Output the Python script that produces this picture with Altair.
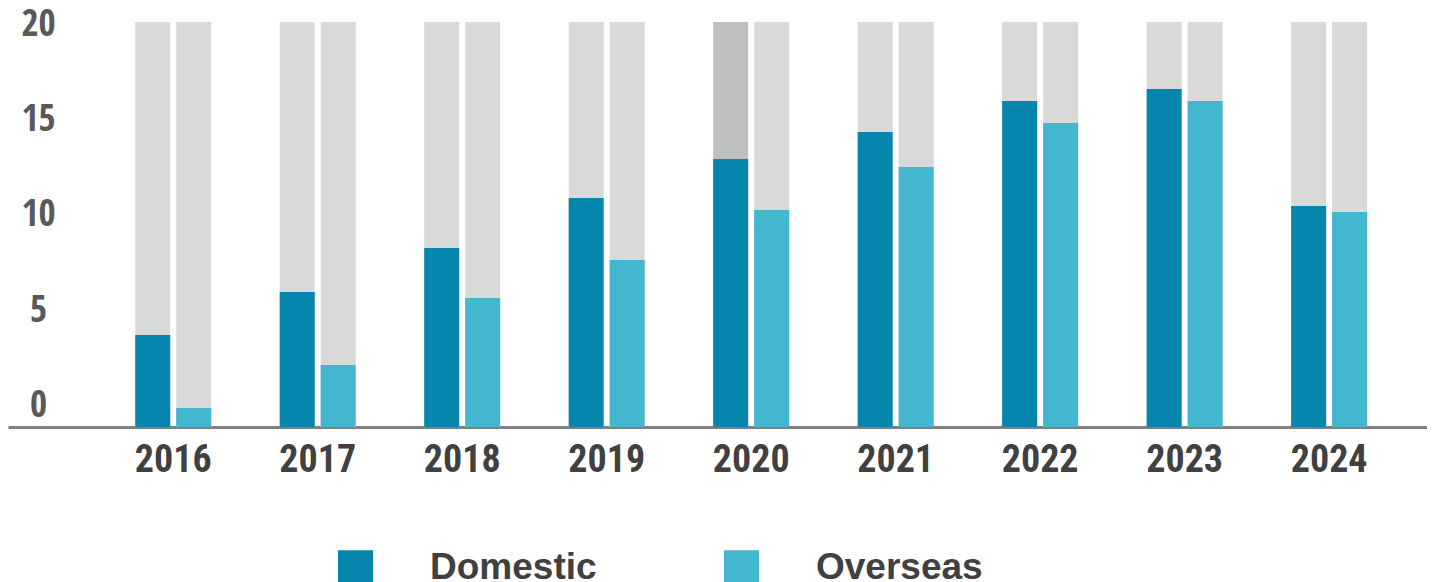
import altair as alt
import pandas as pd

years = ["2016", "2017", "2018", "2019", "2020", "2021", "2022", "2023", "2024"]
domestic = [4.54, 6.67, 8.84, 11.31, 13.23, 14.57, 16.10, 16.69, 10.91]
overseas = [0.94, 3.06, 6.37, 8.25, 10.72, 12.84, 15.01, 16.10, 10.62]
types = ["Domestic", "Overseas"]
axis_max = 20
tick_values = [0, 5, 10, 15, 20]

rows = []
for y, d, o in zip(years, domestic, overseas):
    rows.append({"year": y, "type": "Domestic", "value": d, "full": axis_max})
    rows.append({"year": y, "type": "Overseas", "value": o, "full": axis_max})
df = pd.DataFrame(rows)
ticks_df = pd.DataFrame({"v": tick_values})

xfont = "Roboto Condensed, Liberation Sans, sans-serif"
yfont = "Noto Sans Condensed, Open Sans Condensed, Roboto Condensed, sans-serif"

xscale = alt.Scale(domain=years, paddingInner=0.474, paddingOuter=0.6474, align=0.68)
xoscale = alt.Scale(domain=types, paddingInner=0.146, paddingOuter=0)
xaxis = alt.Axis(
    title=None, labelAngle=0, domain=True, domainColor="#808080", domainWidth=3,
    ticks=False, grid=False, labelFont=xfont, labelFontSize=38,
    labelFontWeight="bold", labelColor="#404040", labelPadding=14,
)

bg = alt.Chart(df).mark_bar().encode(
    x=alt.X("year:N", scale=xscale, axis=xaxis),
    xOffset=alt.XOffset("type:N", scale=xoscale),
    y=alt.Y("full:Q", scale=alt.Scale(domain=[0, axis_max], nice=False), axis=None),
    color=alt.condition(
        "datum.year == '2020' && datum.type == 'Domestic'",
        alt.value("#bfbfbf"), alt.value("#d9d9d9"),
    ),
)

bars = alt.Chart(df).mark_bar().encode(
    x=alt.X("year:N", scale=xscale, axis=xaxis),
    xOffset=alt.XOffset("type:N", scale=xoscale),
    y=alt.Y("value:Q", scale=alt.Scale(domain=[0, axis_max], nice=False), axis=None),
    color=alt.Color(
        "type:N",
        scale=alt.Scale(domain=types, range=["#0786ad", "#42b7cf"]),
        legend=alt.Legend(
            orient="none", legendX=329, legendY=527, direction="horizontal",
            title=None, symbolType="square", symbolSize=1225, symbolStrokeWidth=0,
            symbolOpacity=1, labelFont="Liberation Sans, Arial, sans-serif",
            labelFontSize=37, labelFontWeight="bold", labelColor="#404040",
            labelOffset=56, columnPadding=126, padding=0, labelLimit=500,
        ),
    ),
)

labels = alt.Chart(ticks_df).mark_point(opacity=0).encode(
    y=alt.Y(
        "v:Q",
        scale=alt.Scale(domain=[-1.127, 20.105], nice=False, zero=False),
        axis=alt.Axis(
            values=tick_values, orient="left", title=None, domain=False,
            ticks=False, grid=False, labelPadding=-30, labelAlign="center",
            labelBaseline="middle", labelFont=yfont, labelFontSize=37,
            labelFontWeight="bold", labelColor="#595959",
        ),
    ),
)

chart = alt.layer(bg, bars, labels).resolve_scale(y="independent").properties(
    width=1419, height=405,
    autosize=alt.AutoSizeParams(type="none"),
    padding={"left": 0, "top": 14, "right": 0, "bottom": 160},
).configure_view(stroke=None)

chart.save("out.html", embed_options={"renderer": "svg", "actions": False})
